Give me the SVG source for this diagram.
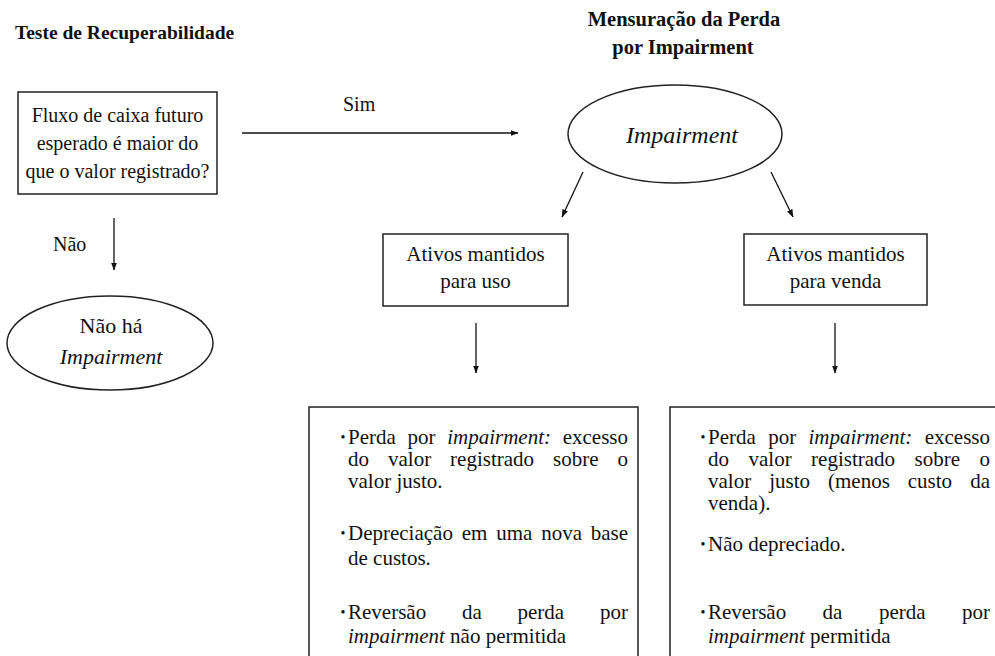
<svg xmlns="http://www.w3.org/2000/svg" width="995" height="656" viewBox="0 0 995 656">
<style>
  text { font-family: "Liberation Serif", "Tinos", "Times New Roman", "DejaVu Serif", serif; fill: #111; }
  .title { font-weight: bold; font-size: 19.5px; }
  .t20 { font-size: 20px; }
  .t21 { font-size: 21px; }
  .mid { text-anchor: middle; }
  .end { text-anchor: end; }
  .it { font-style: italic; }
  .bul { font-size: 14px; text-anchor: middle; }
  .box { fill: #fff; stroke: #222; stroke-width: 1.5; }
  .conn { stroke: #111; stroke-width: 1.3; fill: none; marker-end: url(#arr); }
</style>
<defs>
  <marker id="arr" viewBox="0 0 8 6" refX="7.5" refY="3" markerWidth="8" markerHeight="6" markerUnits="userSpaceOnUse" orient="auto">
    <path d="M0,0 L8,3 L0,6 z" fill="#111"/>
  </marker>
</defs>
<rect width="995" height="656" fill="#fff"/>

<g id="title-recuperabilidade">
  <text class="title" x="15" y="39">Teste de Recuperabilidade</text>
</g>
<g id="title-mensuracao">
  <text class="title mid" x="684" y="26" style="font-size:20.5px">Mensuração da Perda</text>
  <text class="title mid" x="683" y="54" style="font-size:20.5px">por Impairment</text>
</g>

<g id="node-fluxo">
  <rect class="box" x="18" y="92" width="199" height="102"/>
  <text class="t20 mid" x="117.5" y="122">Fluxo de caixa futuro</text>
  <text class="t20 mid" x="117.5" y="150">esperado é maior do</text>
  <text class="t20 mid" x="117.5" y="178">que o valor registrado?</text>
</g>

<g id="node-nao-ha">
  <ellipse class="box" cx="110" cy="343" rx="103" ry="47"/>
  <text class="mid" x="111" y="333" style="font-size:22px">Não há</text>
  <text class="mid it" x="111" y="364" style="font-size:22px">Impairment</text>
</g>

<g id="node-impairment">
  <ellipse class="box" cx="675" cy="134" rx="107" ry="49"/>
  <text class="mid it" x="682" y="143" style="font-size:24px">Impairment</text>
</g>

<g id="node-uso">
  <rect class="box" x="383" y="234" width="185" height="72"/>
  <text class="t21 mid" x="475.5" y="261">Ativos mantidos</text>
  <text class="t21 mid" x="475.5" y="288">para uso</text>
</g>

<g id="node-venda">
  <rect class="box" x="744" y="234" width="183" height="71"/>
  <text class="t21 mid" x="835.5" y="261">Ativos mantidos</text>
  <text class="t21 mid" x="835.5" y="288">para venda</text>
</g>

<g id="node-uso-detalhes">
  <rect class="box" x="309" y="407" width="329" height="260"/>
  <text class="bul" x="343" y="442">•</text>
  <text class="t21" x="348" y="444">Perda</text>
  <text class="t21" x="407.5" y="444">por</text>
  <text class="t21 it" x="447.2" y="444">impairment:</text>
  <text class="t21 end" x="628" y="444">excesso</text>
  <text class="t21" x="348" y="466">do</text>
  <text class="t21" x="388" y="466">valor</text>
  <text class="t21" x="450.1" y="466">registrado</text>
  <text class="t21" x="553" y="466">sobre</text>
  <text class="t21 end" x="628" y="466">o</text>
  <text class="t21" x="348" y="488">valor justo.</text>
  <text class="bul" x="343" y="538">•</text>
  <text class="t21" x="348" y="540">Depreciação</text>
  <text class="t21" x="461.7" y="540">em</text>
  <text class="t21" x="496.2" y="540">uma</text>
  <text class="t21" x="541.2" y="540">nova</text>
  <text class="t21 end" x="628" y="540">base</text>
  <text class="t21" x="348" y="565">de custos.</text>
  <text class="bul" x="343" y="617">•</text>
  <text class="t21" x="348" y="619">Reversão</text>
  <text class="t21" x="461.9" y="619">da</text>
  <text class="t21" x="517.5" y="619">perda</text>
  <text class="t21 end" x="628" y="619">por</text>
  <text class="t21" x="348" y="643"><tspan class="it">impairment</tspan> não permitida</text>
</g>

<g id="node-venda-detalhes">
  <rect class="box" x="670" y="407" width="340" height="260"/>
  <text class="bul" x="703" y="442">•</text>
  <text class="t21" x="708" y="444">Perda</text>
  <text class="t21" x="768.2" y="444">por</text>
  <text class="t21 it" x="808.5" y="444">impairment:</text>
  <text class="t21 end" x="990" y="444">excesso</text>
  <text class="t21" x="708" y="466">do</text>
  <text class="t21" x="748.5" y="466">valor</text>
  <text class="t21" x="811.1" y="466">registrado</text>
  <text class="t21" x="914.5" y="466">sobre</text>
  <text class="t21 end" x="990" y="466">o</text>
  <text class="t21" x="708" y="488">valor</text>
  <text class="t21" x="769.2" y="488">justo</text>
  <text class="t21" x="828" y="488">(menos</text>
  <text class="t21" x="907.8" y="488">custo</text>
  <text class="t21 end" x="990" y="488">da</text>
  <text class="t21" x="708" y="510">venda).</text>
  <text class="bul" x="703" y="549">•</text>
  <text class="t21" x="708" y="551">Não depreciado.</text>
  <text class="bul" x="703" y="617">•</text>
  <text class="t21" x="708" y="619">Reversão</text>
  <text class="t21" x="822.6" y="619">da</text>
  <text class="t21" x="878.9" y="619">perda</text>
  <text class="t21 end" x="990" y="619">por</text>
  <text class="t21" x="708" y="643"><tspan class="it">impairment</tspan> permitida</text>
</g>

<g id="connectors">
  <line class="conn" x1="242" y1="133" x2="518" y2="133"/>
  <text class="t20" x="343" y="111">Sim</text>
  <line class="conn" x1="114" y1="218" x2="114" y2="270"/>
  <text class="t20" x="53" y="251">Não</text>
  <line class="conn" x1="583" y1="172" x2="562" y2="217"/>
  <line class="conn" x1="771" y1="172" x2="793" y2="217"/>
  <line class="conn" x1="476" y1="323" x2="476" y2="373"/>
  <line class="conn" x1="835" y1="323" x2="835" y2="373"/>
</g>
</svg>
